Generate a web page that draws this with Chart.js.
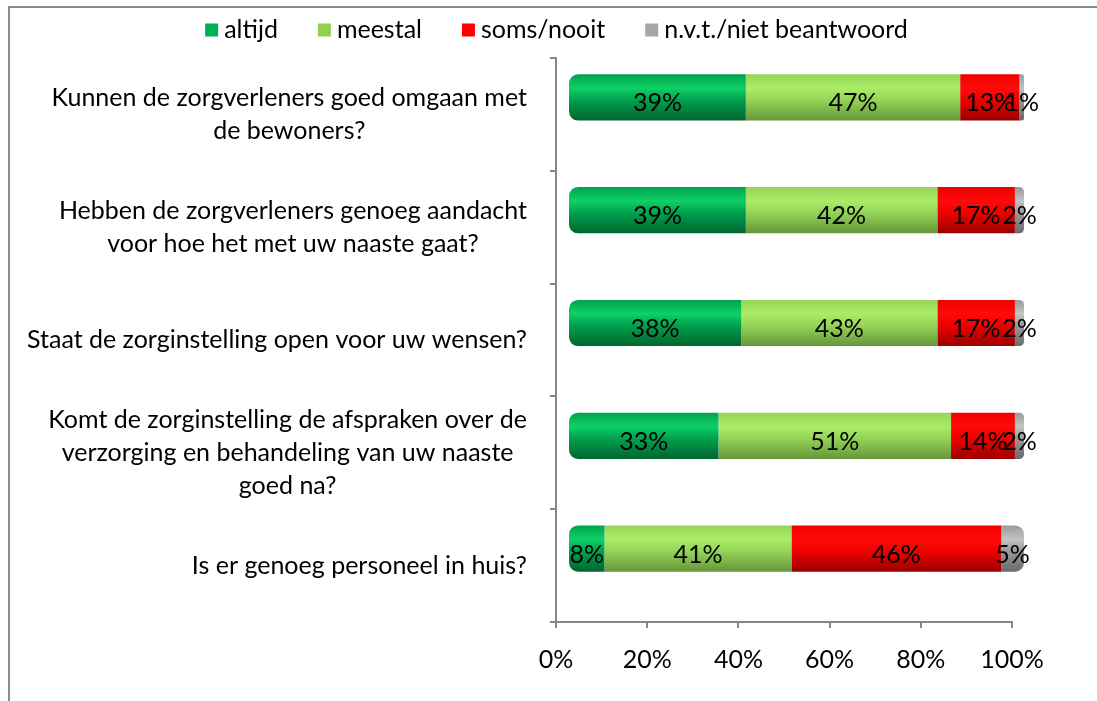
<!DOCTYPE html>
<html lang="nl">
<head>
  <meta charset="UTF-8" />
  <title>Ervaringen zorginstelling</title>
  <script src="https://cdn.jsdelivr.net/npm/chart.js"></script>
  <style>
    html, body { margin: 0; padding: 0; background: #fff; }
    #wrap { position: relative; width: 1097px; height: 701px; overflow: hidden; }
    #frame {
      position: absolute; left: 8px; top: 6px; width: 1200px; height: 800px;
      border-left: 2px solid #8c8c8c; border-top: 2px solid #8c8c8c;
    }
    canvas { position: absolute; left: 0; top: 0; }
  </style>
</head>
<body>
  <div id="wrap">
    <div id="frame"></div>
    <canvas id="chart" width="1097" height="701"></canvas>
  </div>

  <script>
    // vragen (categorieën)
    const vragen = [
      ['Kunnen de zorgverleners goed omgaan met', 'de bewoners?'],
      ['Hebben de zorgverleners genoeg aandacht', 'voor hoe het met uw naaste gaat?'],
      ['Staat de zorginstelling open voor uw wensen?'],
      ['Komt de zorginstelling de afspraken over de', 'verzorging en behandeling van uw naaste', 'goed na?'],
      ['Is er genoeg personeel in huis?']
    ];

    // antwoorden in procenten
    const altijd  = [39, 39, 38, 33, 8];
    const meestal = [47, 42, 43, 51, 41];
    const soms    = [13, 17, 17, 14, 46];
    const nvt     = [1, 2, 2, 2, 5];

    const reeksNamen = ['altijd', 'meestal', 'soms/nooit', 'n.v.t./niet beantwoord'];
    const xTicks = [0, 20, 40, 60, 80, 100];

    const kleuren = ['#00B050', '#92D050', '#FF0000', '#A6A6A6'];
    // cilinder-verloop: boven, licht, onder
    const verloop = [
      ['#00a24e', '#0fd067', '#00652f'],
      ['#95d458', '#aaec66', '#66963a'],
      ['#f00000', '#ff0a0a', '#9a0000'],
      ['#9a9a9a', '#c4c4c4', '#6a6a6a']
    ];

    const FONT = 'Lato, "Open Sans", sans-serif';
    const FS = 25;
    const BAR_PCT = 0.41;
    const DX = 12, DY = -17; // diepte van de 3D-balken

    function cilinder(i) {
      return (c) => {
        const chart = c.chart;
        const y = chart.scales.y;
        if (!y || c.dataIndex === undefined) return kleuren[i];
        const mid = y.getPixelForValue(c.dataIndex);
        const half = (y.height / vragen.length) * BAR_PCT / 2;
        if (!isFinite(mid) || !isFinite(half) || half <= 0) return kleuren[i];
        const g = chart.ctx.createLinearGradient(0, mid - half, 0, mid + half);
        g.addColorStop(0, verloop[i][0]);
        g.addColorStop(0.3, verloop[i][1]);
        g.addColorStop(0.55, verloop[i][0]);
        g.addColorStop(1, verloop[i][2]);
        return g;
      };
    }

    const reeksen = [altijd, meestal, soms, nvt];
    const datasets = reeksen.map((d, i) => ({
      label: reeksNamen[i],
      data: d,
      backgroundColor: cilinder(i),
      borderWidth: 0,
      borderSkipped: false,
      borderRadius: i === 0 ? { topLeft: 9, bottomLeft: 9 } : (i === 3 ? { topRight: 9, bottomRight: 9 } : 0),
      barPercentage: BAR_PCT,
      categoryPercentage: 1
    }));

    // balken verschuiven (3D-diepte)
    const diepte = {
      id: 'diepte',
      beforeDatasetsDraw(chart) { chart.ctx.save(); chart.ctx.translate(DX, DY); },
      afterDatasetsDraw(chart) { chart.ctx.restore(); }
    };

    // percentages in de balken
    const waarden = {
      id: 'waarden',
      afterDatasetsDraw(chart) {
        const ctx = chart.ctx;
        ctx.save();
        ctx.font = FS + 'px ' + FONT;
        ctx.fillStyle = '#000';
        ctx.textAlign = 'center';
        ctx.textBaseline = 'middle';
        chart.data.datasets.forEach((ds, di) => {
          chart.getDatasetMeta(di).data.forEach((el, i) => {
            const x = (el.x + el.base) / 2 + DX;
            ctx.fillText(ds.data[i] + '%', x, el.y + DY + 6);
          });
        });
        ctx.restore();
      }
    };

    // vraagteksten links van de as (regels gecentreerd, blok rechts uitgelijnd)
    const vraagLabels = {
      id: 'vraagLabels',
      afterDraw(chart) {
        const ctx = chart.ctx;
        const y = chart.scales.y;
        const lh = 33;
        ctx.save();
        ctx.font = FS + 'px ' + FONT;
        ctx.fillStyle = '#000';
        ctx.textAlign = 'center';
        ctx.textBaseline = 'middle';
        vragen.forEach((lines, i) => {
          const mid = y.getPixelForValue(i);
          const w = Math.max(...lines.map(l => ctx.measureText(l).width));
          const cx = y.right - 29 - w / 2;
          const top = mid - (lines.length - 1) * lh / 2;
          lines.forEach((l, j) => ctx.fillText(l, cx, top + j * lh));
        });
        ctx.restore();
      }
    };

    // legenda bovenaan
    const legenda = {
      id: 'legenda',
      afterDraw(chart) {
        const ctx = chart.ctx;
        const box = 13, gap = 6, space = 40, ly = 30;
        ctx.save();
        ctx.font = FS + 'px ' + FONT;
        ctx.textBaseline = 'middle';
        ctx.textAlign = 'left';
        const widths = reeksNamen.map(n => box + gap + ctx.measureText(n).width);
        const total = widths.reduce((a, b) => a + b, 0) + space * (reeksNamen.length - 1);
        let x = chart.width / 2 + 8 - total / 2;
        reeksNamen.forEach((n, i) => {
          ctx.fillStyle = kleuren[i];
          ctx.fillRect(x, ly - box / 2, box, box);
          ctx.fillStyle = '#000';
          ctx.fillText(n, x + box + gap, ly);
          x += widths[i] + space;
        });
        ctx.restore();
      }
    };

    new Chart(document.getElementById('chart'), {
      type: 'bar',
      data: { labels: vragen.map(v => v.join(' ')), datasets },
      plugins: [diepte, waarden, vraagLabels, legenda],
      options: {
        indexAxis: 'y',
        responsive: false,
        animation: false,
        layout: { padding: { left: 0, right: 85, top: 58, bottom: 0 } },
        plugins: {
          tooltip: { enabled: false },
          legend: { display: false }
        },
        scales: {
          x: {
            stacked: true,
            min: 0,
            max: 100,
            afterBuildTicks: (s) => { s.ticks = xTicks.map(v => ({ value: v })); },
            afterFit: (s) => { s.height = 79; },
            ticks: {
              callback: (v) => v + '%',
              font: { size: FS, family: FONT },
              color: '#000',
              padding: 17
            },
            grid: { drawOnChartArea: false, drawTicks: true, tickLength: 6, color: '#868686', lineWidth: 2 },
            border: { color: '#868686', width: 2 }
          },
          y: {
            stacked: true,
            afterFit: (s) => { s.width = 556; },
            ticks: { display: false },
            grid: { offset: true, drawOnChartArea: false, drawTicks: true, tickLength: 6, color: '#868686', lineWidth: 2 },
            border: { color: '#868686', width: 2 }
          }
        }
      }
    });
  </script>
</body>
</html>
